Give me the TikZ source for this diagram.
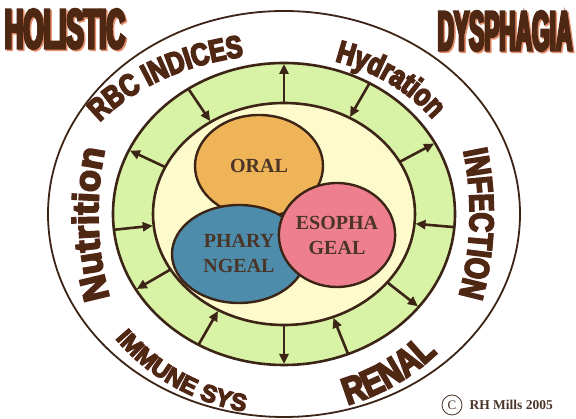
\documentclass[tikz,border=0pt]{standalone}
\usepackage{fontspec}
\setmainfont{Liberation Serif}
\newfontfamily\bandfont{Liberation Sans Bold}[FakeStretch=0.8,FakeBold=5]
\newfontfamily\bandwidefont{Liberation Sans Bold}[FakeStretch=1.0,FakeBold=5]
\newfontfamily\titlefont{Liberation Sans Bold}[FakeStretch=0.46,FakeBold=5]
\usetikzlibrary{shapes.geometric,decorations.text,arrows.meta,positioning}

\definecolor{ringbrown}{HTML}{3C2416}
\definecolor{labelbrown}{HTML}{4E2812}
\definecolor{labelshadow}{HTML}{D89AB8}
\definecolor{titleshadow}{HTML}{E8906E}
\definecolor{ringgreen}{HTML}{D8F2A6}
\definecolor{coreyellow}{HTML}{FDFBCB}
\definecolor{oralorange}{HTML}{F0B458}
\definecolor{pharyblue}{HTML}{4D8CAB}
\definecolor{esophapink}{HTML}{EE7F8C}
\definecolor{phasetext}{HTML}{4A3428}

\tikzset{
  ring/.style={draw=ringbrown, line width=2.6pt},
  phase/.style={ellipse, draw=ringbrown, line width=2.4pt, inner sep=0pt, align=center,
    text=phasetext, font=\bfseries\fontsize{20}{25}\selectfont},
  ringarrow/.style={->, draw=ringbrown, line width=2.6pt, shorten >=1pt},
  ringtext/.style={decorate, decoration={text along path, text align=center, text={#1}}},
  ringshadow/.style={transform canvas={shift={(1.5pt,-1.5pt)}}},
  title/.style={font=\titlefont\fontsize{56}{56}\selectfont, inner sep=0pt},
}

% start angle, end angle, x radius, y radius, font, text
\newcommand{\ringlabel}[6]{%
  \path[ringshadow, ringtext={|#5\color{labelshadow}|#6}]
    (C) ++(#1:#3 and #4) arc[start angle=#1, end angle=#2, x radius=#3, y radius=#4];
  \path[ringtext={|#5\color{labelbrown}|#6}]
    (C) ++(#1:#3 and #4) arc[start angle=#1, end angle=#2, x radius=#3, y radius=#4];
}

\begin{document}
\begin{tikzpicture}[x=1pt, y=1pt, >={Triangle[length=10pt, width=9pt]}]
    \useasboundingbox (0,0) rectangle (576,419);
    \coordinate (C) at (284,205);
    % rings
        \draw[ringbrown, line width=1.8pt, fill=white] (C) ellipse [x radius=236pt, y radius=203pt];
        \draw[ring, fill=ringgreen] (C) ellipse [x radius=171pt, y radius=151pt];
        \draw[ring, fill=coreyellow] (C) ellipse [x radius=131pt, y radius=111pt];
    % arrows
        \foreach \a/\s/\e in {90/i/o, 60/o/i, 28/i/o, 355/o/i, 322/i/o, 292/o/i,
                              270/i/o, 240/o/i, 210/i/o, 186/o/i, 155/i/o, 124/o/i}{
            \path (C) ++(\a:131pt and 111pt) coordinate (i\a)
                  (C) ++(\a:171pt and 151pt) coordinate (o\a);
            \draw[ringarrow] (\s\a) -- (\e\a);
        }
    % phases
        \node[phase, fill=oralorange, minimum width=128pt, minimum height=102pt] (oral) at (259,253) {ORAL};
        \node[phase, fill=pharyblue, minimum width=134pt, minimum height=98pt] (phary) at (239,165) {PHARY\\NGEAL};
        \node[phase, fill=esophapink, minimum width=110pt, minimum height=104pt] (esopha) at (337,184) {ESOPHA\\GEAL};
    % ring labels
        \ringlabel{153.5}{93.5}{225pt}{160pt}{\bandfont\fontsize{31}{31}\selectfont}{RBC INDICES}
        \ringlabel{84.7}{24.7}{185pt}{159pt}{\bandfont\fontsize{31}{31}\selectfont}{Hydration}
        \ringlabel{27.6}{-32.4}{186pt}{240pt}{\bandfont\fontsize{34}{34}\selectfont}{INFECTION}
        \ringlabel{212.5}{152.5}{186pt}{240pt}{\bandwidefont\fontsize{36}{36}\selectfont}{Nutrition}
        \ringlabel{208.7}{268.7}{215pt}{201pt}{\bandwidefont\fontsize{24}{24}\selectfont}{IMMUNE SYS}
        \ringlabel{272}{332}{213pt}{200pt}{\bandfont\fontsize{38}{38}\selectfont}{RENAL}
    % titles
        \node[title, text=titleshadow] (holisticshade) at (66.5,388.5) {HOLISTIC};
        \node[title, text=labelbrown] (holistic) at (65,390) {HOLISTIC};
        \node[title, text=titleshadow, xscale=0.88] (dysphagiashade) at (506.5,386.5) {DYSPHAGIA};
        \node[title, text=labelbrown, xscale=0.88] (dysphagia) at (505,388) {DYSPHAGIA};
    % copyright
        \node[circle, draw=phasetext, line width=0.8pt, minimum size=20pt, inner sep=0pt,
              text=phasetext, font=\fontsize{13}{13}\selectfont] (copy) at (452,14) {C};
        \node[right=7pt of copy, inner sep=0pt, text=phasetext,
              font=\bfseries\fontsize{13.5}{14}\selectfont] (mills) {RH Mills 2005};
\end{tikzpicture}
\end{document}
